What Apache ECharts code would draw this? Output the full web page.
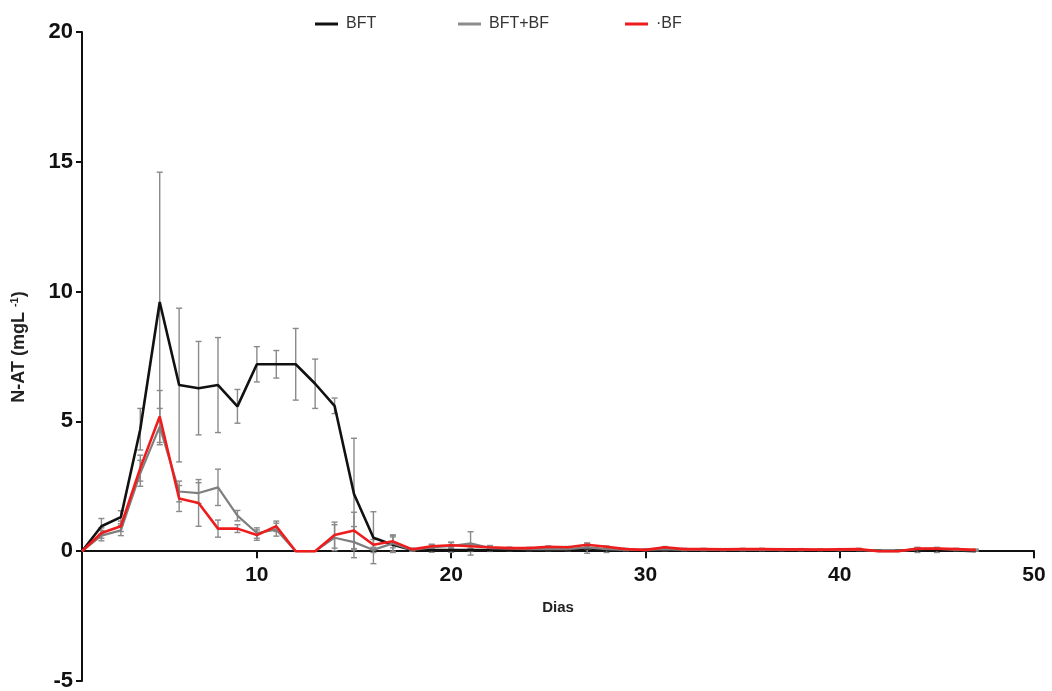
<!DOCTYPE html>
<html>
<head>
<meta charset="utf-8">
<script src="https://cdn.jsdelivr.net/npm/echarts@6/dist/echarts.min.js"></script>
<style>html,body{margin:0;padding:0;background:#fff;}#c{width:1052px;height:691px;}</style>
</head>
<body>
<div id="c"></div>
<script>
const days = [];
for (let d = 1; d <= 47; d++) days.push(d);

const bft = [0, 0.96, 1.31, 4.7, 9.6, 6.4, 6.28, 6.4, 5.58, 7.2,
  7.2, 7.2, 6.45, 5.6, 2.2, 0.52, 0.25, 0.05, 0.04, 0.04,
  0.04, 0.04, 0.03, 0.03, 0.03, 0.03, 0.12, 0.05, 0.03, 0.03,
  0.03, 0.03, 0.03, 0.03, 0.03, 0.03, 0.03, 0.03, 0.03, 0.03,
  0.03, 0.02, 0.02, 0.05, 0.05, 0.03, 0];
const bftErr = [0, 0.3, 0.25, 0.8, 5.0, 2.96, 1.8, 1.83, 0.65, 0.68,
  0.53, 1.38, 0.95, 0.3, 2.15, 1.0, 0.3, 0.05, 0.08, 0.08,
  0.05, 0.05, 0.03, 0.03, 0.03, 0.03, 0.2, 0.1, 0.03, 0.03,
  0.03, 0.03, 0.03, 0.03, 0.03, 0.03, 0.03, 0.03, 0.03, 0.03,
  0.03, 0.02, 0.02, 0.1, 0.1, 0.03, 0];

const bftbf = [0, 0.6, 0.8, 3.0, 4.8, 2.3, 2.24, 2.46, 1.37, 0.7,
  0.83, 0, 0, 0.52, 0.35, 0.05, 0.3, 0.05, 0.15, 0.2,
  0.3, 0.12, 0.1, 0.08, 0.08, 0.08, 0.15, 0.08, 0.05, 0.05,
  0.08, 0.05, 0.05, 0.05, 0.05, 0.05, 0.05, 0.05, 0.05, 0.05,
  0.05, 0, 0, 0.08, 0.1, 0.05, 0.03];
const bftbfErr = [0, 0.2, 0.2, 0.5, 0.7, 0.4, 0.4, 0.7, 0.2, 0.2,
  0.25, 0, 0, 0.5, 0.6, 0.1, 0.3, 0.05, 0.1, 0.15,
  0.45, 0.1, 0.05, 0.03, 0.03, 0.03, 0.05, 0.03, 0.03, 0.03,
  0.03, 0.03, 0.03, 0.03, 0.03, 0.03, 0.03, 0.03, 0.03, 0.03,
  0.03, 0, 0, 0.03, 0.03, 0.03, 0.03];

const bf = [0, 0.7, 0.96, 3.2, 5.19, 2.03, 1.86, 0.87, 0.87, 0.62,
  0.96, 0, 0, 0.62, 0.8, 0.25, 0.38, 0.07, 0.19, 0.23,
  0.19, 0.15, 0.12, 0.12, 0.17, 0.15, 0.25, 0.17, 0.08, 0.05,
  0.15, 0.08, 0.08, 0.07, 0.08, 0.08, 0.07, 0.07, 0.06, 0.07,
  0.08, 0, 0, 0.1, 0.1, 0.08, 0.05];
const bfErr = [0, 0.2, 0.2, 0.5, 1.0, 0.5, 0.9, 0.33, 0.15, 0.2,
  0.2, 0, 0, 0.5, 0.7, 0.2, 0.25, 0.05, 0.08, 0.1,
  0.08, 0.05, 0.03, 0.03, 0.03, 0.03, 0.05, 0.03, 0.03, 0.03,
  0.03, 0.03, 0.03, 0.03, 0.03, 0.03, 0.03, 0.03, 0.03, 0.03,
  0.03, 0, 0, 0.03, 0.03, 0.03, 0.03];

const xTicks = [10, 20, 30, 40, 50];
const seriesNames = ['BFT', 'BFT+BF', '·BF'];

function pairs(vals) { return days.map((d, i) => [d, vals[i]]); }
function errData(vals, errs) { return days.map((d, i) => [d, vals[i] - errs[i], vals[i] + errs[i]]); }

function errSeries(vals, errs, color) {
  return {
    type: 'custom',
    silent: true,
    z: 1,
    data: errData(vals, errs),
    renderItem: function (params, api) {
      const x = api.value(0);
      const lo = api.coord([x, api.value(1)]);
      const hi = api.coord([x, api.value(2)]);
      if (Math.abs(hi[1] - lo[1]) < 0.5) return null;
      const w = 3;
      const st = { stroke: color, lineWidth: 1.4 };
      return {
        type: 'group',
        children: [
          { type: 'line', shape: { x1: lo[0], y1: lo[1], x2: hi[0], y2: hi[1] }, style: st },
          { type: 'line', shape: { x1: hi[0] - w, y1: hi[1], x2: hi[0] + w, y2: hi[1] }, style: st },
          { type: 'line', shape: { x1: lo[0] - w, y1: lo[1], x2: lo[0] + w, y2: lo[1] }, style: st }
        ]
      };
    }
  };
}

const FONT = 'Liberation Sans, Arial, sans-serif';
const legendBase = {
  top: 11, itemWidth: 23, itemHeight: 3, itemGap: 0, icon: 'rect',
  textStyle: { fontFamily: FONT, fontSize: 16, color: '#333', padding: [0, 0, 0, 3] }
};

const chart = echarts.init(document.getElementById('c'));
chart.setOption({
  animation: false,
  backgroundColor: '#fff',
  grid: { left: 82, right: 18, top: 32, bottom: 10, containLabel: false, outerBoundsMode: 'none' },
  legend: [
    Object.assign({}, legendBase, { left: 310, data: [seriesNames[0]] }),
    Object.assign({}, legendBase, { left: 453, data: [seriesNames[1]] }),
    Object.assign({}, legendBase, { left: 620, data: [seriesNames[2]] })
  ],
  graphic: [{
    type: 'text',
    x: 19, y: 347, rotation: Math.PI / 2,
    style: {
      text: 'N-AT (mgL {sup|-1})',
      fontFamily: FONT, fontSize: 18, fontWeight: 'bold', fill: '#222',
      align: 'center', verticalAlign: 'middle',
      rich: { sup: { fontFamily: FONT, fontSize: 11, fontWeight: 'bold', fill: '#222', verticalAlign: 'top', padding: [0, 0, 9, 0] } }
    }
  }],
  xAxis: {
    type: 'value', min: 1, max: 50,
    position: 'bottom', offset: -129.8,
    name: 'Dias', nameLocation: 'middle', nameGap: 49,
    nameTextStyle: { fontFamily: FONT, fontSize: 15, fontWeight: 'bold', color: '#222' },
    axisLine: { onZero: false, lineStyle: { color: '#111', width: 2 } },
    axisTick: { show: true, customValues: xTicks, length: 7, lineStyle: { color: '#111', width: 2 } },
    axisLabel: { customValues: xTicks, margin: 14, fontFamily: FONT, fontSize: 21, fontWeight: 'bold', color: '#111' },
    splitLine: { show: false }
  },
  yAxis: {
    type: 'value', min: -5, max: 20, interval: 5,
    axisLine: { show: true, lineStyle: { color: '#111', width: 2 } },
    axisTick: { show: true, length: 6, lineStyle: { color: '#111', width: 2 } },
    axisLabel: { margin: 9, fontFamily: FONT, fontSize: 22, fontWeight: 'bold', color: '#111' },
    splitLine: { show: false }
  },
  series: [
    errSeries(bft, bftErr, '#8a8a8a'),
    errSeries(bftbf, bftbfErr, '#8a8a8a'),
    errSeries(bf, bfErr, '#8a8a8a'),
    { name: seriesNames[0], type: 'line', data: pairs(bft), symbol: 'none', z: 3, lineStyle: { color: '#111', width: 2.6 }, itemStyle: { color: '#111' } },
    { name: seriesNames[1], type: 'line', data: pairs(bftbf), symbol: 'none', z: 4, lineStyle: { color: '#7f7f7f', width: 2.2 }, itemStyle: { color: '#8c8c8c' } },
    { name: seriesNames[2], type: 'line', data: pairs(bf), symbol: 'none', z: 5, lineStyle: { color: '#ee1c1c', width: 2.6 }, itemStyle: { color: '#ee1c1c' } }
  ]
});
</script>
</body>
</html>
